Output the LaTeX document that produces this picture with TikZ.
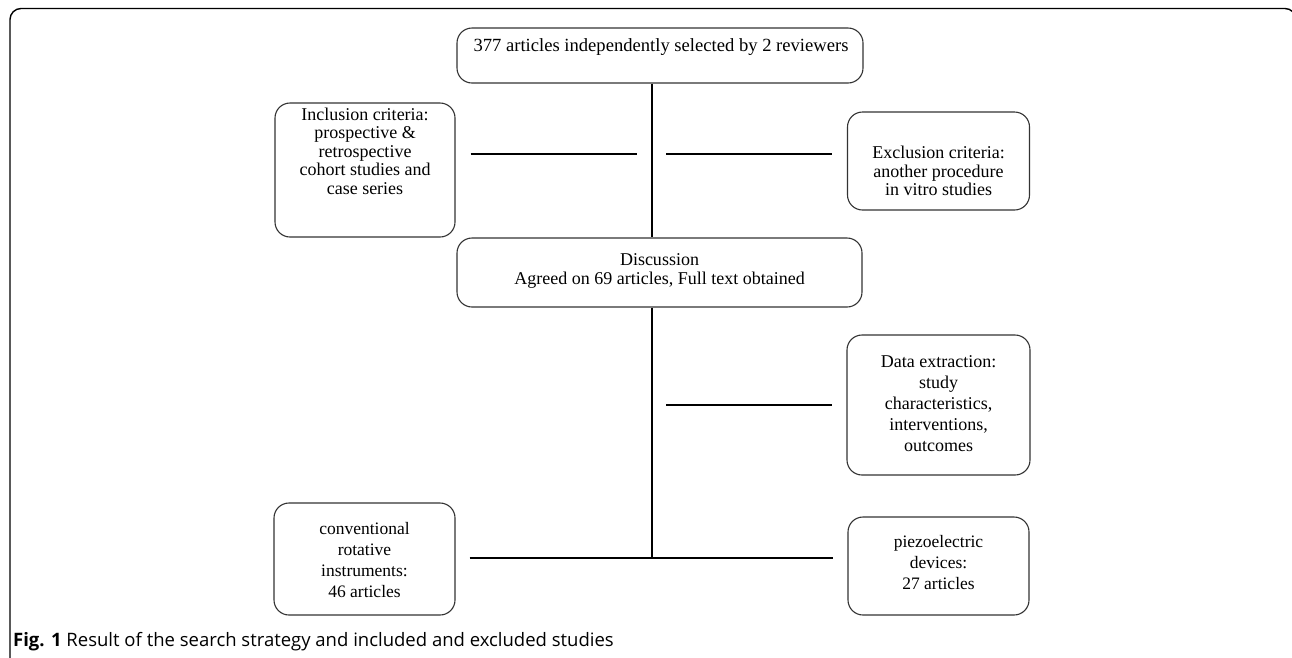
\documentclass[tikz,border=0pt]{standalone}
\usepackage{fontspec}
\setmainfont{Liberation Serif}
\newfontfamily\capfont{Open Sans}
\usepackage{tikz}
\usetikzlibrary{positioning, calc}

\begin{document}
\begin{tikzpicture}[
      x=1pt, y=-1pt,
      box/.style={draw=black!80, line width=1.1pt, rounded corners=15pt},
      txt/.style={align=center, inner sep=0pt, font=\fontsize{18}{18.5}\selectfont},
      link/.style={draw=black, line width=2pt}
    ]
      \useasboundingbox (0,0) rectangle (1292,657);
      \clip (0,0) rectangle (1292,657);
      % outer frame
      \draw[line width=1.4pt, rounded corners=11pt] (10,8.5) rectangle (1296,720);

      % boxes
      \node[box, minimum width=406, minimum height=55] (top) at (660,55.5) {};
      \node[txt, font=\fontsize{18.6}{19}\selectfont] (top-t) at (661,47) {377 articles independently selected by 2 reviewers};

      \node[box, minimum width=180, minimum height=134] (incl) at (365,170) {};
      \node[txt] (incl-t) at (365,151) {Inclusion criteria:\\prospective \&\\retrospective\\cohort studies and\\case series};

      \node[box, minimum width=182, minimum height=98] (excl) at (938.5,161) {};
      \node[txt] (excl-t) at (938.5,171) {Exclusion criteria:\\another procedure\\in vitro studies};

      \node[box, minimum width=405, minimum height=69] (disc) at (659.5,272.5) {};
      \node[txt] (disc-t) at (659.5,271) {Discussion\\Agreed on 69 articles, Full text obtained};

      \node[box, minimum width=183, minimum height=140] (data) at (938.5,405) {};
      \node[txt, font=\fontsize{18}{21}\selectfont] (data-t) at (938.5,404) {Data extraction:\\study\\characteristics,\\interventions,\\outcomes};

      \node[box, minimum width=181, minimum height=112] (conv) at (364.5,559) {};
      \node[txt, font=\fontsize{17.5}{21}\selectfont] (conv-t) at (364.5,560) {conventional\\rotative\\instruments:\\46 articles};

      \node[box, minimum width=181, minimum height=98] (piezo) at (938.5,566) {};
      \node[txt, font=\fontsize{17.5}{21}\selectfont] (piezo-t) at (938.5,563) {piezoelectric\\devices:\\27 articles};

      % junctions on the main line
      \coordinate (j1) at (652,154);
      \coordinate (j2) at (j1 |- data.west);
      \coordinate (j3) at (652,558);

      % connectors
      \draw[link] (j1 |- top.south) -- (j1 |- disc.north);
      \draw[link] (j1 |- disc.south) -- (j3);
      \draw[link, shorten <=15pt, shorten >=15pt] (incl.east |- j1) -- (j1);
      \draw[link, shorten <=14pt, shorten >=15pt] (j1) -- (excl.west |- j1);
      \draw[link, shorten <=14pt, shorten >=14pt] (j2) -- (data.west);
      \draw[link, shorten <=14pt, shorten >=14pt] (conv.east |- j3) -- (piezo.west |- j3);

      % caption
      \node[anchor=base west, inner sep=0pt, font=\capfont\fontsize{18.5}{22}\selectfont] (cap) at (13,646)
        {\textbf{Fig. 1} Result of the search strategy and included and excluded studies};
    \end{tikzpicture}
\end{document}
